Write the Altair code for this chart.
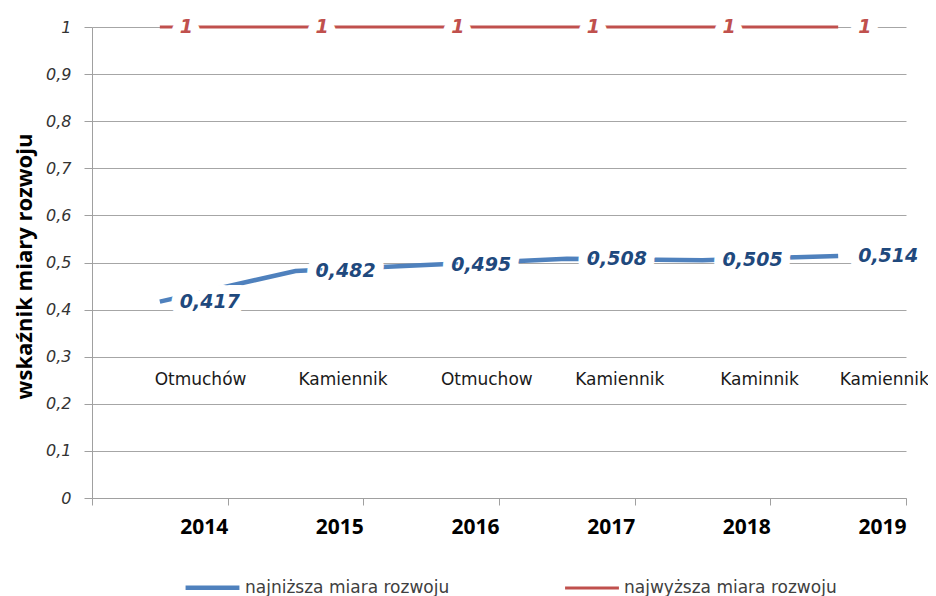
import altair as alt
import pandas as pd

years = [2014, 2015, 2016, 2017, 2018, 2019]
lowest = [0.417, 0.482, 0.495, 0.508, 0.505, 0.514]
highest = [1, 1, 1, 1, 1, 1]
lowest_names = ["Otmuchów", "Kamiennik", "Otmuchow", "Kamiennik", "Kaminnik", "Kamiennik"]
name_pos = [0.80, 1.85, 2.91, 3.89, 4.92, 5.84]
name_level = 0.25
series_low = "najniższa miara rozwoju"
series_high = "najwyższa  miara rozwoju"

BLUE = "#4F81BD"
RED = "#C0504D"
BLUE_TXT = "#1F497D"


def fmt(v):
    s = ("%.3f" % v).rstrip("0").rstrip(".")
    return s.replace(".", ",")


rows = []
for i, y in enumerate(years):
    rows.append({"pos": i + 0.5, "year": y, "value": lowest[i], "series": series_low, "label": fmt(lowest[i])})
    rows.append({"pos": i + 0.5, "year": y, "value": highest[i], "series": series_high, "label": fmt(highest[i])})
df = pd.DataFrame(rows)
names_df = pd.DataFrame({"pos": name_pos, "value": [name_level] * len(name_pos), "name": lowest_names})

year_expr = "[''," + ",".join("'%d'" % y for y in years) + "][datum.value]"

x_enc = alt.X(
    "pos:Q",
    scale=alt.Scale(domain=[0, len(years)], nice=False, zero=False),
    axis=alt.Axis(
        values=list(range(len(years) + 1)),
        labelExpr=year_expr,
        grid=False,
        title=None,
        tickSize=7,
        labelAlign="right",
        labelFlush=False,
        labelFont="Open Sans",
        labelFontSize=21,
        labelFontWeight="bold",
        labelColor="#000000",
        labelPadding=11,
    ),
)
y_enc = alt.Y(
    "value:Q",
    scale=alt.Scale(domain=[0, 1], nice=False),
    axis=alt.Axis(
        values=[i / 10 for i in range(11)],
        labelExpr="replace(format(datum.value, '.1~f'), '.', ',')",
        title="wskaźnik miary rozwoju",
        titleFont="Open Sans",
        titleFontSize=22,
        titleFontWeight="bold",
        titleColor="#000000",
        titleX=-68,
        titleY=239,
        titleAlign="center",
        titleBaseline="middle",
        tickSize=8,
        labelPadding=13,
        labelFont="DejaVu Sans",
        labelFontSize=16,
        labelFontStyle="italic",
        labelColor="#333333",
    ),
)

lines = alt.Chart(df).mark_line().encode(
    x=x_enc,
    y=y_enc,
    color=alt.Color(
        "series:N",
        scale=alt.Scale(domain=[series_low, series_high], range=[BLUE, RED]),
        legend=alt.Legend(
            orient="none",
            legendX=91,
            legendY=531,
            direction="horizontal",
            title=None,
            symbolType="stroke",
            symbolSize=2900,
            symbolStrokeWidth=4,
            labelFont="DejaVu Sans",
            labelFontSize=17,
            labelColor="#404040",
            labelOffset=3,
            columnPadding=108,
            padding=0,
            labelLimit=400,
        ),
    ),
    strokeWidth=alt.StrokeWidth(
        "series:N", scale=alt.Scale(domain=[series_low, series_high], range=[4.5, 3.2]), legend=None
    ),
)

text_props = dict(align="left", baseline="middle", dx=20, font="DejaVu Sans", fontSize=19,
                  fontWeight="bold", fontStyle="italic")

halo = alt.Chart(df).mark_text(stroke="white", strokeWidth=18, strokeJoin="round", fill="white",
                               **text_props).encode(x="pos:Q", y="value:Q", text="label:N")
low_txt = alt.Chart(df).transform_filter(alt.datum.series == series_low).mark_text(
    color=BLUE_TXT, **text_props).encode(x="pos:Q", y="value:Q", text="label:N")
high_txt = alt.Chart(df).transform_filter(alt.datum.series == series_high).mark_text(
    color=RED, **text_props).encode(x="pos:Q", y="value:Q", text="label:N")

names = alt.Chart(names_df).mark_text(
    align="center", baseline="middle", font="DejaVu Sans", fontSize=17, color="#1a1a1a"
).encode(x="pos:Q", y="value:Q", text="name:N")

chart = (
    alt.layer(lines, halo, low_txt, high_txt, names)
    .properties(
        width=814,
        height=471,
        autosize=alt.AutoSizeParams(type="none"),
        padding={"left": 84, "top": 19, "right": 22, "bottom": 98},
    )
    .configure_view(stroke=None)
    .configure_axis(domainColor="#A0A0A0", tickColor="#A0A0A0", gridColor="#A6A6A6")
)

chart.save("out.html", embed_options={"renderer": "svg", "actions": False})
